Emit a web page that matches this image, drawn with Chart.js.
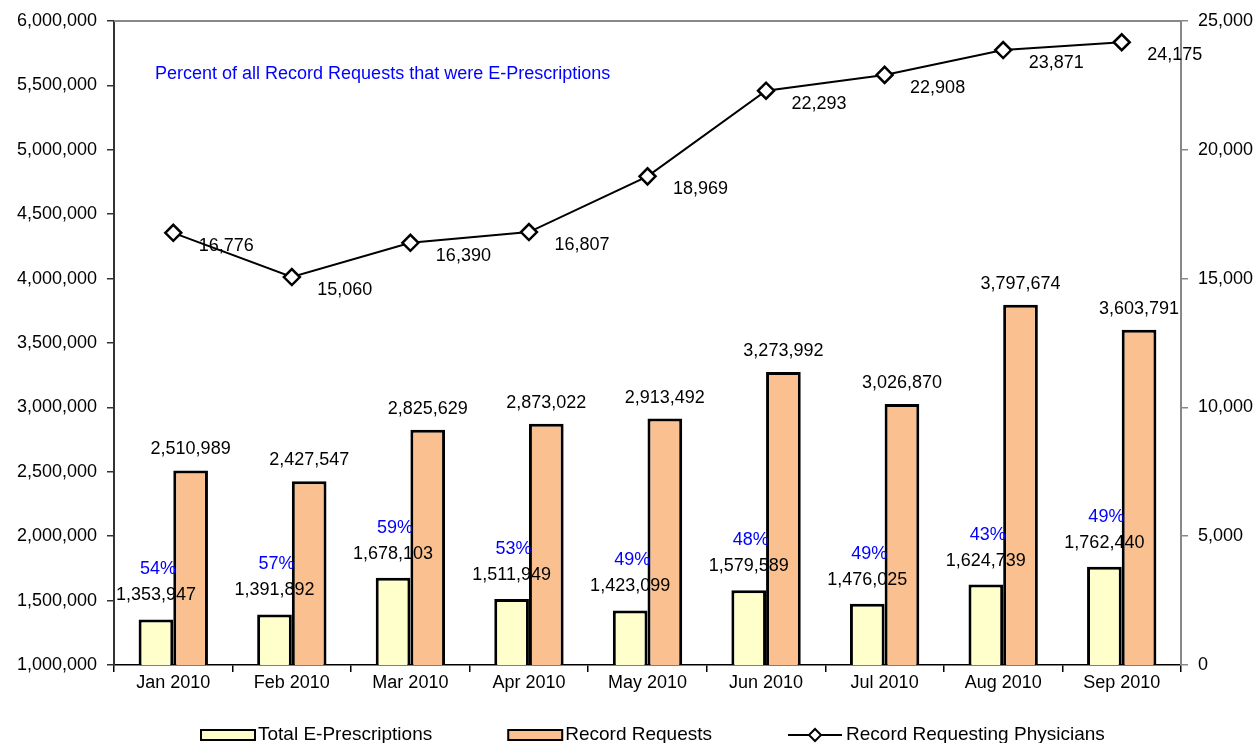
<!DOCTYPE html>
<html lang="en">
<head>
  <meta charset="utf-8" />
  <title>E-Prescriptions 2010</title>
  <script src="https://cdn.jsdelivr.net/npm/chart.js"></script>
  <style>
    html, body { margin: 0; padding: 0; background: #fff; }
    #wrap { width: 1259px; height: 743px; }
  </style>
</head>
<body>
  <div id="wrap"><canvas id="rxChart" width="1259" height="743"></canvas></div>

  <script>
    const months = ['Jan 2010','Feb 2010','Mar 2010','Apr 2010','May 2010','Jun 2010','Jul 2010','Aug 2010','Sep 2010'];
    const ePrescriptions = [1353947,1391892,1678103,1511949,1423099,1579589,1476025,1624739,1762440];
    const recordRequests = [2510989,2427547,2825629,2873022,2913492,3273992,3026870,3797674,3603791];
    const physicians     = [16776,15060,16390,16807,18969,22293,22908,23871,24175];
    const percentLabels  = ['54%','57%','59%','53%','49%','48%','49%','43%','49%'];
    const noteText = 'Percent of all Record Requests that were E-Prescriptions';

    const FONT = '"Liberation Sans", Arial, sans-serif';
    const FS = 18;
    const YELLOW = '#FFFFCC';
    const ORANGE = '#FAC090';
    const fmt = v => Number(v).toLocaleString('en-US');

    // value labels, percent labels, note, top border and legend
    const extras = {
      id: 'extras',
      afterDatasetsDraw(chart) {
        const ctx = chart.ctx;
        const area = chart.chartArea;
        ctx.save();
        ctx.font = FS + 'px ' + FONT;
        ctx.textAlign = 'center';
        ctx.textBaseline = 'middle';

        const yellowBars = chart.getDatasetMeta(0).data;
        const orangeBars = chart.getDatasetMeta(1).data;
        const points     = chart.getDatasetMeta(2).data;

        orangeBars.forEach((b, i) => {
          ctx.fillStyle = '#000';
          ctx.fillText(fmt(recordRequests[i]), b.x, b.y - 21);
        });
        yellowBars.forEach((b, i) => {
          ctx.fillStyle = '#000';
          ctx.fillText(fmt(ePrescriptions[i]), b.x, b.y - 24);
          ctx.fillStyle = '#0000FF';
          ctx.fillText(percentLabels[i], b.x + 2, b.y - 50);
        });
        points.forEach((p, i) => {
          ctx.fillStyle = '#000';
          ctx.fillText(fmt(physicians[i]), p.x + 53, p.y + 13);
        });

        // note
        ctx.textAlign = 'left';
        ctx.fillStyle = '#0000FF';
        ctx.fillText(noteText, 155, 74);

        // top border of plot
        ctx.strokeStyle = '#888';
        ctx.lineWidth = 2;
        ctx.beginPath();
        ctx.moveTo(area.left, area.top);
        ctx.lineTo(area.right, area.top);
        ctx.stroke();

        // legend
        ctx.font = '19px ' + FONT;
        const ly = 735;
        let x = 201;
        const boxes = [[YELLOW, 'Total E-Prescriptions'], [ORANGE, 'Record Requests']];
        boxes.forEach(([col, txt]) => {
          ctx.fillStyle = col;
          ctx.fillRect(x, ly - 5, 54, 10);
          ctx.strokeStyle = '#000';
          ctx.lineWidth = 2;
          ctx.strokeRect(x, ly - 5, 54, 10);
          ctx.fillStyle = '#000';
          ctx.fillText(txt, x + 57, ly);
          x += 57 + ctx.measureText(txt).width + 76;
        });
        ctx.beginPath();
        ctx.moveTo(x, ly);
        ctx.lineTo(x + 54, ly);
        ctx.stroke();
        ctx.beginPath();
        ctx.moveTo(x + 27 - 6, ly);
        ctx.lineTo(x + 27, ly - 6);
        ctx.lineTo(x + 27 + 6, ly);
        ctx.lineTo(x + 27, ly + 6);
        ctx.closePath();
        ctx.fillStyle = '#fff';
        ctx.fill();
        ctx.stroke();
        ctx.fillStyle = '#000';
        ctx.fillText('Record Requesting Physicians', x + 58, ly);
        ctx.restore();
      }
    };

    const ctx = document.getElementById('rxChart').getContext('2d');
    new Chart(ctx, {
      data: {
        labels: months,
        datasets: [
          {
            type: 'bar',
            label: 'Total E-Prescriptions',
            data: ePrescriptions,
            backgroundColor: YELLOW,
            borderColor: '#000',
            borderWidth: 3,
            borderSkipped: 'start',
            yAxisID: 'y',
            order: 2,
            barPercentage: 1,
            categoryPercentage: 0.585
          },
          {
            type: 'bar',
            label: 'Record Requests',
            data: recordRequests,
            backgroundColor: ORANGE,
            borderColor: '#000',
            borderWidth: 3,
            borderSkipped: 'start',
            yAxisID: 'y',
            order: 2,
            barPercentage: 1,
            categoryPercentage: 0.585
          },
          {
            type: 'line',
            label: 'Record Requesting Physicians',
            data: physicians,
            borderColor: '#000',
            borderWidth: 2,
            pointStyle: 'rectRot',
            pointRadius: 8,
            pointBackgroundColor: '#fff',
            pointBorderColor: '#000',
            pointBorderWidth: 2.5,
            yAxisID: 'y1',
            order: 0,
            tension: 0
          }
        ]
      },
      options: {
        responsive: false,
        animation: false,
        devicePixelRatio: 1,
        layout: { padding: { top: 21, bottom: 48, left: 0, right: 0 }, autoPadding: false },
        plugins: { legend: { display: false }, tooltip: { enabled: false } },
        scales: {
          x: {
            grid: { offset: true, drawOnChartArea: false, tickLength: 7, color: '#000', lineWidth: 1.5 },
            border: { color: '#000', width: 1.5 },
            ticks: { color: '#000', font: { family: FONT, size: FS }, padding: 0, maxRotation: 0 },
            afterFit: s => { s.height = 30; }
          },
          y: {
            position: 'left',
            min: 1000000, max: 6000000,
            ticks: { stepSize: 500000, color: '#000', font: { family: FONT, size: FS }, padding: 10, callback: v => fmt(v) },
            grid: { drawOnChartArea: false, tickLength: 7, color: '#333', lineWidth: 1.5 },
            border: { color: '#333', width: 2 },
            afterFit: s => { s.width = 114; }
          },
          y1: {
            position: 'right',
            min: 0, max: 25000,
            ticks: { stepSize: 5000, color: '#000', font: { family: FONT, size: FS }, padding: 10, callback: v => fmt(v) },
            grid: { drawOnChartArea: false, tickLength: 7, color: '#888', lineWidth: 1.5 },
            border: { color: '#888', width: 2 },
            afterFit: s => { s.width = 78; }
          }
        }
      },
      plugins: [extras]
    });
  </script>
</body>
</html>
